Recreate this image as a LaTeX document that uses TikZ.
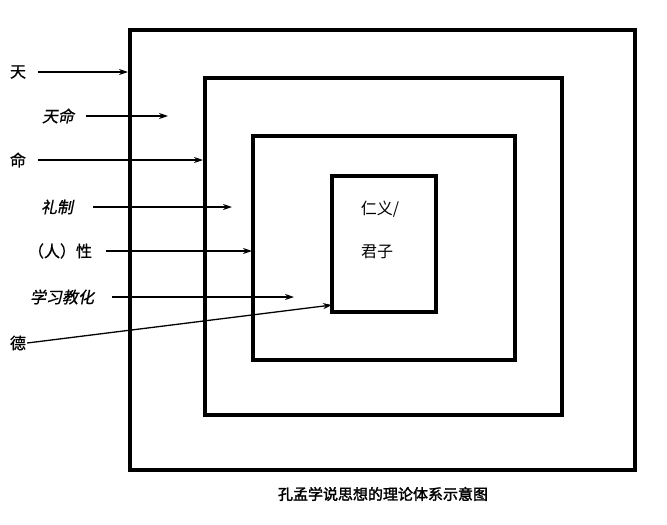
\documentclass[tikz,border=0pt]{standalone}
\usepackage{fontspec}
\newfontfamily\cjk[FakeBold=0.8]{Noto Sans CJK SC}
\newfontfamily\cjkit[FakeSlant=0.2,FakeBold=0.8]{Noto Sans CJK SC}
\newfontfamily\cjkin{Noto Sans CJK SC}
\newfontfamily\cjkb[FakeBold=2]{Noto Sans CJK SC}
\usetikzlibrary{arrows.meta}
\begin{document}
\begin{tikzpicture}[x=1pt,y=-1pt,
  box/.style={draw,line width=4pt},
  lab/.style={font=\cjk\fontsize{16}{19}\selectfont,inner sep=1pt},
  ilab/.style={font=\cjkit\fontsize{16}{19}\selectfont,inner sep=1pt},
  arr/.style={-{Stealth[length=9pt,width=6pt]},line width=1.3pt}]
\useasboundingbox (0,0) rectangle (667,525);
\draw[box] (130,30) rectangle (635,470);
\draw[box] (205,78) rectangle (562,415);
\draw[box] (253,136) rectangle (515,360);
\draw[box] (332,176) rectangle (436,312);
\node[lab] (t) at (18,72) {天};
\node[ilab] (tm) at (58,116) {天命};
\node[lab] (m) at (18,160) {命};
\node[ilab] (lz) at (57,207) {礼制};
\node[lab] (rx) at (60,251) {（人）性};
\node[ilab] (xx) at (62,297) {学习教化};
\node[lab] (d) at (18,343) {德};
\coordinate (e1) at (128,72);
\coordinate (e2) at (168,116);
\coordinate (e3) at (203,160);
\coordinate (e4) at (232,207);
\coordinate (e5) at (252,251);
\coordinate (e6) at (294,297);
\coordinate (e7) at (332,305);
\draw[arr] (38,72) -- (e1);
\draw[arr] (86,116) -- (e2);
\draw[arr] (38,160) -- (e3);
\draw[arr] (93,207) -- (e4);
\draw[arr] (106,251) -- (e5);
\draw[arr] (112,297) -- (e6);
\draw[arr] (d.east) -- (e7);
\node[font=\cjkin\fontsize{16}{19}\selectfont] (ry) at (380,209) {仁义/};
\node[font=\cjkin\fontsize{16}{19}\selectfont] (jz) at (377,252) {君子};
\node[font=\cjkb\fontsize{15}{18}\selectfont] (cap) at (383,494) {孔孟学说思想的理论体系示意图};
\end{tikzpicture}
\end{document}
